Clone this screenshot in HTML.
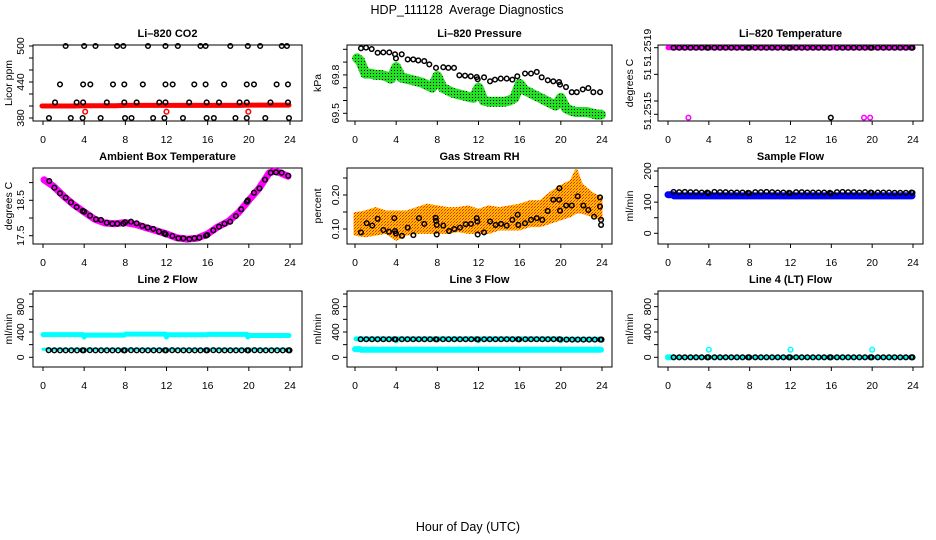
<!DOCTYPE html>
<html><head><meta charset="utf-8"><style>
html,body{margin:0;padding:0;background:#fff;}
svg{display:block;font-family:"Liberation Sans",Arial,sans-serif;}
</style></head><body>
<svg id="chart" width="936" height="540" viewBox="0 0 936 540" xmlns="http://www.w3.org/2000/svg">
<defs>
<pattern id="gpat" width="3" height="3" patternUnits="userSpaceOnUse"><rect width="3" height="3" fill="#22e022"/><rect x="1" y="1" width="1" height="1" fill="#000"/></pattern>
<pattern id="opat" width="3" height="3" patternUnits="userSpaceOnUse"><rect width="3" height="3" fill="#ffc000"/><rect x="0" y="0" width="1" height="1" fill="#ff2000"/><rect x="2" y="1" width="1" height="1" fill="#ff8000"/><rect x="1" y="2" width="1" height="1" fill="#ff2000"/></pattern>
</defs>
<text x="467" y="14" text-anchor="middle" font-size="12.5">HDP_111128&#160; Average Diagnostics</text>
<text x="468" y="531" text-anchor="middle" font-size="12.5">Hour of Day (UTC)</text>
</svg>
<script>
// ---------- data ----------
var blkHours=[0.55,1.1,1.65,2.2,2.75,3.3,3.85,3.95,4.55,5.1,5.65,6.2,6.75,7.3,7.85,7.95,8.55,9.1,9.65,10.2,10.75,11.3,11.85,11.95,12.55,13.1,13.65,14.2,14.75,15.3,15.85,15.95,16.55,17.1,17.65,18.2,18.75,19.3,19.85,19.95,20.55,21.1,21.65,22.2,22.75,23.3,23.85,23.95];
// CO2
var co2Hours=[2.2,4.0,5.1,7.2,7.8,10.2,11.9,13.1,15.3,15.8,18.2,19.9,21.1,23.2,23.7,1.65,3.9,4.6,6.8,7.9,9.7,11.9,12.6,14.7,15.8,17.6,19.8,20.5,22.7,23.8,1.17,3.27,3.9,6.2,7.9,9.1,11.3,11.9,14.2,15.9,17.1,19.1,19.8,22.1,23.8,0.58,2.7,3.85,5.6,7.97,8.6,10.7,11.8,13.6,15.9,16.6,18.7,19.8,21.6,23.9];
var co2Black=[500,500,500,500,500,500,500,500,500,500,500,500,500,500,500,436,436,436,436,436,436,436,436,436,436,436,436,436,436,436,406,406,406,406,406,406,406,406,406,406,406,406,406,406,406,380,380,380,380,380,380,380,380,380,380,380,380,380,380,380];
var co2RedHours=[-0.1,1,2,3,4,5,6,7,8,9,10,11,12,13,14,15,16,17,18,19,20,21,22,23,23.9];
var co2Red=[400,400,400,400,400.5,400.5,400.5,400.5,401,401,401,401,401,401,401,401,401,401,401,401,401.5,401.5,401.5,401.5,401.5];
var co2RedOutHours=[4.1,12.0,19.95];
var co2RedOut=[390.5,390.5,390.5];
// Pressure
var presHours=[0.58,1.07,1.62,2.2,2.75,3.33,3.89,3.98,4.54,5.12,5.66,6.15,6.73,7.22,7.87,8.58,9.07,9.62,10.14,10.69,11.25,11.83,11.92,12.54,13.12,13.6,14.16,14.74,15.29,15.77,16.52,17.1,17.66,18.14,18.73,19.27,19.83,19.92,20.5,21.06,21.55,22.13,22.67,23.16,23.81];
var presBlack=[70.008,70.013,70.002,69.973,69.976,69.976,69.961,69.929,69.961,69.921,69.921,69.913,69.908,69.882,69.855,69.860,69.855,69.855,69.797,69.794,69.789,69.783,69.766,69.781,69.750,69.763,69.771,69.771,69.763,69.789,69.811,69.811,69.823,69.781,69.758,69.750,69.744,69.724,69.705,69.665,69.665,69.687,69.697,69.665,69.665];
var presGreenHours=[0.2,0.5,1,1.5,2,2.5,3,3.5,4,4.5,5,5.5,6,6.5,7,7.5,8,8.5,9,9.5,10,10.5,11,11.5,12,12.5,13,13.5,14,14.5,15,15.5,16,16.5,17,17.5,18,18.5,19,19.5,20,20.5,21,21.5,22,22.5,23,23.5,23.9];
var presGreen=[69.93,69.91,69.81,69.81,69.80,69.80,69.79,69.77,69.86,69.78,69.77,69.76,69.75,69.74,69.72,69.70,69.79,69.70,69.68,69.66,69.65,69.64,69.63,69.62,69.70,69.60,69.59,69.59,69.59,69.59,69.60,69.62,69.73,69.68,69.66,69.64,69.62,69.60,69.58,69.56,69.62,69.54,69.52,69.51,69.51,69.51,69.50,69.49,69.49];
// Li-820 temperature
var tempBlack=[51.2519,51.2519,51.2519,51.2519,51.2519,51.2519,51.2519,51.2519,51.2519,51.2519,51.2519,51.2519,51.2519,51.2519,51.2519,51.2519,51.2519,51.2519,51.2519,51.2519,51.2519,51.2519,51.2519,51.2519,51.2519,51.2519,51.2519,51.2519,51.2519,51.2519,51.2519,51.25148,51.2519,51.2519,51.2519,51.2519,51.2519,51.2519,51.2519,51.2519,51.2519,51.2519,51.2519,51.2519,51.2519,51.2519,51.2519,51.2519];
var tempMagHours=[0.0,24.0];
var tempMag=[51.2519,51.2519];
var tempMagOutHours=[2.0,19.2,19.8];
var tempMagOut=[51.25148,51.25148,51.25148];
// Ambient box temperature
var ambHours=[0.61,1.10,1.65,2.21,2.72,3.27,3.86,4.01,4.57,5.15,5.64,6.19,6.74,7.22,7.8,7.97,8.55,9.1,9.65,10.17,10.72,11.27,11.79,11.92,12.57,13.15,13.64,14.22,14.71,15.19,15.84,15.97,16.55,17.1,17.64,18.19,18.74,19.26,19.81,19.9,20.5,21.03,21.57,22.13,22.64,23.19,23.83];
var ambBlack=[19.045,18.856,18.698,18.573,18.443,18.311,18.198,18.178,18.065,17.963,17.944,17.867,17.839,17.839,17.839,17.879,17.895,17.850,17.777,17.729,17.692,17.616,17.568,17.540,17.492,17.427,17.427,17.407,17.427,17.444,17.5,17.520,17.653,17.754,17.839,17.895,18.056,18.246,18.460,18.500,18.715,18.839,19.082,19.280,19.291,19.280,19.195];
var ambMagHours=[0.1,1,2,3,4,5,6,7,8,9,10,11,12,13,14,15,16,17,18,19,20,21,22,22.5,23,23.8];
var ambMag=[19.08,18.9,18.62,18.37,18.17,17.97,17.86,17.84,17.87,17.82,17.73,17.64,17.55,17.44,17.40,17.43,17.55,17.75,17.9,18.15,18.5,18.84,19.28,19.32,19.28,19.18];
// Gas stream RH
var rhHours=[0.58,1.14,1.68,2.2,2.75,3.3,3.82,3.89,3.98,4.57,5.12,5.67,6.22,6.73,7.84,7.87,7.94,7.94,8.58,9.14,9.65,10.2,10.76,11.27,11.83,11.89,11.92,12.54,13.12,13.67,14.19,14.74,15.29,15.81,15.87,16.52,17.1,17.66,18.2,18.72,19.27,19.83,19.86,19.92,20.51,21.06,21.64,22.19,22.67,23.23,23.81,23.81,23.91,23.91];
var rhBlack=[0.090,0.117,0.110,0.130,0.097,0.092,0.132,0.094,0.087,0.080,0.104,0.082,0.132,0.115,0.133,0.124,0.112,0.084,0.110,0.094,0.100,0.104,0.114,0.115,0.132,0.122,0.084,0.090,0.122,0.112,0.115,0.110,0.127,0.142,0.112,0.117,0.127,0.132,0.127,0.153,0.186,0.186,0.220,0.154,0.169,0.169,0.196,0.169,0.156,0.136,0.193,0.166,0.127,0.112];
var rhBandHours=[0,1,2,3,4,5,6,7,8,9,10,11,12,13,14,15,16,17,18,19,20,21,21.5,22,23,23.9];
var rhUpper=[0.145,0.15,0.16,0.15,0.15,0.15,0.16,0.17,0.165,0.16,0.16,0.165,0.155,0.165,0.16,0.165,0.17,0.18,0.18,0.205,0.225,0.24,0.272,0.23,0.205,0.19];
var rhLower=[0.085,0.08,0.085,0.09,0.07,0.085,0.09,0.09,0.09,0.09,0.095,0.09,0.09,0.09,0.10,0.10,0.10,0.11,0.11,0.12,0.13,0.14,0.15,0.15,0.14,0.13];
// Sample flow
var sampleBlack=[133,132,133,132,132,131,131,129,133,132,132,131,131,131,130,129,132,132,133,132,131,131,130,129,132,132,131,131,131,131,130,128,132,133,132,132,131,132,131,130,131,131,131,130,130,130,131,130];
var sampleBlueHours=[0,0.5,0.6,3.9,4.1,7.9,8.1,11.9,12.1,15.9,16.1,19.9,20.1,23.9];
var sampleBlue=[124,124,120,120,120,120,120,120,120,120,120,120,120,120];
// Line 2 flow
var line2Black=[112,110,110,110,110,110,111,110,112,110,110,110,110,110,110,110,112,110,110,110,110,110,111,110,112,110,110,110,110,110,111,110,112,110,110,110,110,110,111,110,112,110,110,110,110,110,111,110];
var line2CyanHours=[0,3.9,4.0,4.1,7.9,8.0,11.9,12.0,12.1,15.9,16.0,19.8,19.9,20.0,23.9];
var line2Cyan=[358,358,320,350,350,366,366,320,355,355,362,362,320,345,345];
var line2Cyan2Hours=[0,23.9];
var line2Cyan2=[128,128];
// Line 3 flow
var line3Black=[285,285,285,285,285,285,285,283,285,285,285,285,285,285,285,283,285,285,285,285,285,285,285,283,285,285,285,285,285,285,285,283,285,285,285,285,285,285,285,283,280,280,280,280,280,280,280,280];
var line3CyanHours=[0.1,3.9,4.0,4.1,11.9,12.0,12.1,19.9,20.0,20.1,23.9];
var line3Cyan=[290,290,262,290,290,262,290,290,262,285,285];
var line3Cyan2Hours=[0,0.5,0.6,23.9];
var line3Cyan2=[130,130,118,118];
// Line 4 flow
var line4Black=[0,0,0,0,0,0,0,0,0,0,0,0,0,0,0,0,0,0,0,0,0,0,0,0,0,0,0,0,0,0,0,0,0,0,0,0,0,0,0,0,0,0,0,0,0,0,0,0];
var line4CyanHours=[0,24];
var line4Cyan=[0,0];
var line4CyanOutHours=[0.0,0.2,4.0,12.0,20.0];
var line4CyanOut=[0,0,120,120,120];
var xTicks=[0,4,8,12,16,20,24];

// ---------- layout ----------
var svg=document.getElementById('chart');
var NS='http://www.w3.org/2000/svg';
var cols=[{l:33,r:302,x0:43,x24:290,lab:9,tl:21},{l:347,r:612,x0:355,x24:602,lab:318,tl:336},{l:658,r:923,x0:668,x24:913,lab:630,tl:648}];
var tops=[45,168,291], BH=76;

function mk(tag,attrs,name,parent){
  var el=document.createElementNS(NS,tag);
  for(var k in attrs) el.setAttribute(k,attrs[k]);
  
  
  (parent||svg).appendChild(el);
  return el;
}
function xScale(c){var C=cols[c];return function(h){return C.x0+(C.x24-C.x0)*h/24;};}
function yScale(v1,p1,v2,p2){return function(v){return p1+(v-v1)*(p2-p1)/(v2-v1);};}

function panel(o){
  var C=cols[o.c], top=tops[o.r], bot=top+BH;
  var g=mk('g',{},o.name);
  var X=xScale(o.c), Y=o.y;
  o.X=X;o.g=g;
  mk('text',{x:(C.l+C.r)/2,y:top-8,'text-anchor':'middle','font-size':'11','font-weight':'bold'},'panel-title',g).textContent=o.title;
  mk('rect',{x:C.l,y:top,width:C.r-C.l,height:BH,fill:'none',stroke:'#000','stroke-width':1},'plot-frame',g);
  mk('line',{x1:X(0),x2:X(24),y1:bot,y2:bot,stroke:'#000'},'x-axis-line',g);
  xTicks.forEach(function(t){
    mk('line',{x1:X(t),x2:X(t),y1:bot,y2:bot+4,stroke:'#000'},'x-tick',g);
    mk('text',{x:X(t),y:bot+22,'text-anchor':'middle','font-size':'10.5'},'x-tick-label',g).textContent=t;
  });
  o.ticks.forEach(function(t){
    mk('line',{x1:C.l-4,x2:C.l,y1:Y(t),y2:Y(t),stroke:'#000'},'y-tick',g);
  });
  mk('line',{x1:C.l,x2:C.l,y1:Y(o.ticks[0]),y2:Y(o.ticks[o.ticks.length-1]),stroke:'#000'},'y-axis-line',g);
  o.labels.forEach(function(t,i){
    var yy=Y(o.labelPos?o.labelPos[i]:t);
    mk('text',{x:C.tl,y:yy,'text-anchor':'middle','font-size':'10.5','dominant-baseline':'central',transform:'rotate(-90 '+C.tl+' '+yy+')'},'y-tick-label',g).textContent=o.labelText?o.labelText[i]:t;
  });
  mk('text',{x:C.lab,y:(top+bot)/2,'text-anchor':'middle','font-size':'10.5','dominant-baseline':'central',transform:'rotate(-90 '+C.lab+' '+((top+bot)/2)+')'},'y-axis-title',g).textContent=o.ylab;
  return o;
}
function band(o,hs,vs,color,w,name){
  var pts=hs.map(function(h,i){return o.X(h).toFixed(1)+','+o.y(vs[i]).toFixed(1);}).join(' ');
  mk('polyline',{points:pts,fill:'none',stroke:color,'stroke-width':w,'stroke-linejoin':'round','stroke-linecap':'round'},name,o.g);
}
function pts(o,hs,vs,color,r,sw,name){
  hs.forEach(function(h,i){
    mk('circle',{cx:o.X(h),cy:o.y(vs[i]),r:r,fill:'none',stroke:color,'stroke-width':sw},name,o.g);
  });
}
function area(o,hs,up,lo,fill,name){
  var a=hs.map(function(h,i){return o.X(h).toFixed(1)+','+o.y(up[i]).toFixed(1);});
  var b=hs.map(function(h,i){return o.X(h).toFixed(1)+','+o.y(lo[i]).toFixed(1);}).reverse();
  mk('polygon',{points:a.concat(b).join(' '),fill:fill,stroke:fill,'stroke-width':3,'stroke-linejoin':'round'},name,o.g);
}
var R=2.3, SW=1.5;

var p1=panel({c:0,r:0,name:'panel-co2',title:'Li\u2013820 CO2',ylab:'Licor ppm',y:yScale(380,118,500,46),ticks:[380,400,420,440,460,480,500],labels:[380,440,500]});
band(p1,co2RedHours,co2Red,'#ff0000',5,'co2-red-series');
pts(p1,co2RedOutHours,co2RedOut,'#ff0000',R,SW,'co2-red-point');
pts(p1,co2Hours,co2Black,'#000',R,SW,'co2-black-point');

var p2=panel({c:1,r:0,name:'panel-pressure',title:'Li\u2013820 Pressure',ylab:'kPa',y:yScale(69.5,113.3,70.0,49.3),ticks:[69.5,69.6,69.7,69.8,69.9,70.0],labels:[69.5,69.8],labelText:['69.5','69.8']});
band(p2,presGreenHours,presGreen,'url(#gpat)',10,'pressure-green-series');
pts(p2,presHours,presBlack,'#000',R,SW,'pressure-black-point');

var p3=panel({c:2,r:0,name:'panel-li820-temperature',title:'Li\u2013820 Temperature',ylab:'degrees C',y:yScale(51.2519,47.7,51.2515,114.3),ticks:[51.2519,51.25174,51.25158,51.2515],labels:[51.2519,51.25174,51.25152],labelText:['51.2519','51','51.2515']});
band(p3,tempMagHours,tempMag,'#ff00ff',5,'temp-magenta-series');
pts(p3,tempMagOutHours,tempMagOut,'#ff00ff',R,SW,'temp-magenta-point');
pts(p3,blkHours,tempBlack,'#000',R,SW,'temp-black-point');

var p4=panel({c:0,r:1,name:'panel-ambient-temperature',title:'Ambient Box Temperature',ylab:'degrees C',y:yScale(17.5,235.7,18.5,200.3),ticks:[17.5,18,18.5,19],labels:[17.5,18.5],labelText:['17.5','18.5']});
band(p4,ambMagHours,ambMag,'#ff00ff',7,'ambient-magenta-series');
pts(p4,ambHours,ambBlack,'#000',R,SW,'ambient-black-point');

var p5=panel({c:1,r:1,name:'panel-gas-rh',title:'Gas Stream RH',ylab:'percent',y:yScale(0.10,229,0.20,195),ticks:[0.10,0.15,0.20,0.25],labels:[0.10,0.20],labelText:['0.10','0.20']});
area(p5,rhBandHours,rhUpper,rhLower,'url(#opat)','rh-orange-cloud');
pts(p5,rhHours,rhBlack,'#000',R,SW,'rh-black-point');

var p6=panel({c:2,r:1,name:'panel-sample-flow',title:'Sample Flow',ylab:'ml/min',y:yScale(0,233.3,200,171),ticks:[0,50,100,150,200],labels:[0,100,200]});
band(p6,sampleBlueHours,sampleBlue,'#0000ff',7,'sample-blue-series');
pts(p6,blkHours,sampleBlack,'#000',R,SW,'sample-black-point');

var flowY=yScale(0,357.3,1000,294), flowTicks=[0,200,400,600,800,1000];
var p7=panel({c:0,r:2,name:'panel-line2-flow',title:'Line 2 Flow',ylab:'ml/min',y:flowY,ticks:flowTicks,labels:[0,400,800]});
band(p7,line2CyanHours,line2Cyan,'#00ffff',5,'line2-cyan-series');
band(p7,line2Cyan2Hours,line2Cyan2,'#00ffff',3,'line2-cyan-low-series');
pts(p7,blkHours,line2Black,'#000',R,SW,'line2-black-point');

var p8=panel({c:1,r:2,name:'panel-line3-flow',title:'Line 3 Flow',ylab:'ml/min',y:flowY,ticks:flowTicks,labels:[0,400,800]});
band(p8,line3CyanHours,line3Cyan,'#00ffff',5,'line3-cyan-series');
band(p8,line3Cyan2Hours,line3Cyan2,'#00ffff',6,'line3-cyan-low-series');
pts(p8,blkHours,line3Black,'#000',R,SW,'line3-black-point');

var p9=panel({c:2,r:2,name:'panel-line4-flow',title:'Line 4 (LT) Flow',ylab:'ml/min',y:flowY,ticks:flowTicks,labels:[0,400,800]});
band(p9,line4CyanHours,line4Cyan,'#00ffff',4,'line4-cyan-series');
pts(p9,line4CyanOutHours,line4CyanOut,'#00ffff',R,SW,'line4-cyan-point');
pts(p9,blkHours,line4Black,'#000',R,SW,'line4-black-point');
</script>
</body></html>
